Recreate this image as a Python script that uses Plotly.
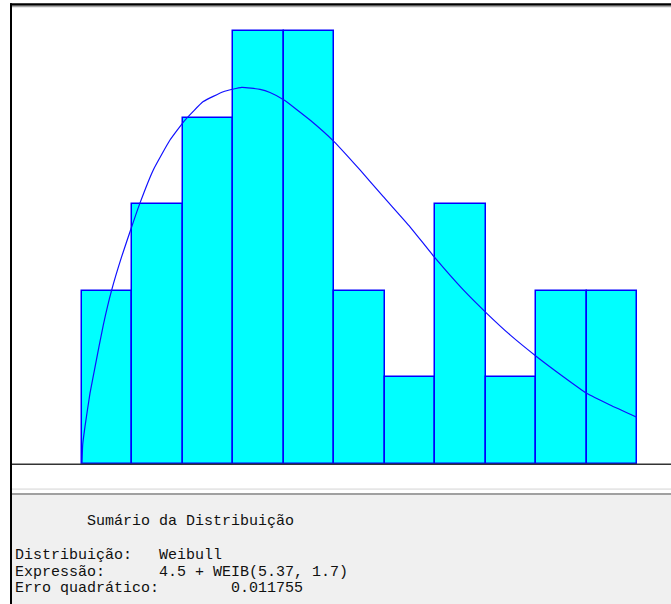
import plotly.graph_objects as go

# ---- data ----
bin_centers = [5, 6, 7, 8, 9, 10, 11, 12, 13, 14, 15]
counts = [2, 3, 4, 5, 5, 2, 1, 3, 1, 2, 2]
bin_width = 1.0

curve_x = [4.5, 4.514, 4.559, 4.659, 4.758, 4.922, 5.089, 5.286, 5.485, 5.650,
           5.913, 6.244, 6.542, 6.904, 7.301, 7.666, 8.028, 8.226, 8.504, 9.019,
           9.495, 10.010, 10.472, 11.001, 11.477, 12.058, 12.522, 12.984,
           13.513, 14.040, 14.504, 14.966, 15.495]
curve_y = [0.0, 0.0075, 0.0144, 0.0273, 0.0373, 0.0535, 0.0670, 0.0798, 0.0913,
           0.1005, 0.1132, 0.1247, 0.1324, 0.1395, 0.1433, 0.1450, 0.1442,
           0.1430, 0.1401, 0.1324, 0.1241, 0.1132, 0.1029, 0.0913, 0.0798,
           0.0670, 0.0580, 0.0497, 0.0413, 0.0336, 0.0272, 0.0227, 0.0180]

summary_title = "Sumário da Distribuição"
summary_labels = ["Distribuição:", "Expressão:", "Erro quadrático:"]
summary_values = ["Weibull", "4.5 + WEIB(5.37, 1.7)", "0.011755"]

total = sum(counts)
rel_freq = [c / total for c in counts]

W, H = 671, 604


def px(x):
    return x / W


def py(y):
    return (H - y) / H


fig = go.Figure()
fig.add_trace(go.Bar(
    x=bin_centers, y=rel_freq, width=bin_width,
    marker=dict(color="#00ffff", line=dict(color="#0000ff", width=1.5)),
    hoverinfo="skip",
))
fig.add_trace(go.Scatter(
    x=curve_x, y=curve_y, mode="lines",
    line=dict(color="#1010ff", width=1.2, shape="spline", smoothing=0.4),
    hoverinfo="skip",
))

shapes = []


def rect(x0, y0, x1, y1, color):
    shapes.append(dict(type="rect", xref="paper", yref="paper",
                       x0=px(x0), x1=px(x1), y0=py(y1), y1=py(y0),
                       fillcolor=color, line=dict(width=0), layer="above"))


# bottom summary panel and separators
rect(12, 495, W, H, "#f0f0f0")
rect(12, 488.3, W, 490, "#e6e6e6")
rect(12, 493, W, 495, "#a0a0a0")
# baseline
rect(12, 463.6, W, 465, "#333333")
# frame
rect(10, 3.3, W, 5.7, "#000000")
rect(12, 5.7, W, 7.3, "#a8a8a8")
rect(10, 3.3, 12, H, "#000000")

annotations = []
mono = dict(family="Liberation Mono, Courier New, monospace", size=15, color="#111111")


def text(x, y, s):
    annotations.append(dict(text=s, x=px(x), y=py(y), xref="paper", yref="paper",
                            xanchor="left", yanchor="middle", showarrow=False,
                            font=mono))


text(85, 521.5, summary_title)
line_y = [555.5, 572, 588.5]
value_x = [157, 157, 229]
for lab, val, ly, vx in zip(summary_labels, summary_values, line_y, value_x):
    text(13, ly, lab)
    text(vx, ly, val)

x_scale = 555 / 11.0
fig.update_layout(
    width=W, height=H,
    margin=dict(l=0, r=0, t=0, b=0),
    paper_bgcolor="white", plot_bgcolor="white",
    showlegend=False, bargap=0,
    xaxis=dict(range=[4.5 - 82 / x_scale, 4.5 + (W - 82) / x_scale], visible=False),
    yaxis=dict(range=[-(H - 464) / 2598.0, 464 / 2598.0], visible=False),
    shapes=shapes, annotations=annotations,
)

fig.write_html(
    "out.html",
    config={"displayModeBar": False},
    post_script="document.body.style.margin='0';document.body.style.overflow='hidden';",
)
